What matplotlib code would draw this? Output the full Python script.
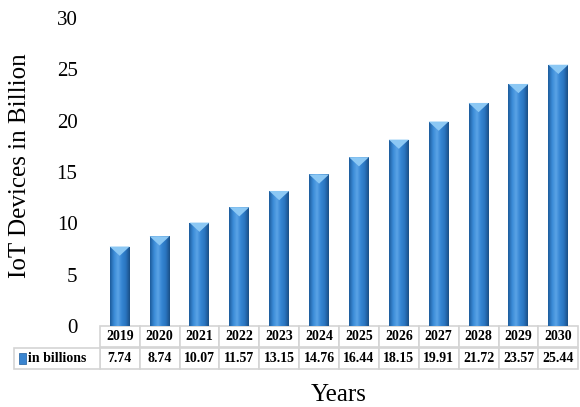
import numpy as np
import matplotlib.pyplot as plt
from matplotlib.patches import Rectangle, Polygon
from matplotlib.colors import LinearSegmentedColormap
import matplotlib.transforms as mtransforms

plt.rcParams['font.family'] = ['Liberation Serif', 'DejaVu Serif']

# data
years = ['2019', '2020', '2021', '2022', '2023', '2024', '2025', '2026',
         '2027', '2028', '2029', '2030']
values = [7.74, 8.74, 10.07, 11.57, 13.15, 14.76, 16.44, 18.15, 19.91,
          21.72, 23.57, 25.44]
value_labels = ['7.74', '8.74', '10.07', '11.57', '13.15', '14.76', '16.44',
                '18.15', '19.91', '21.72', '23.57', '25.44']
series_name = 'in billions'

fig = plt.figure(figsize=(5.8, 4.07), dpi=100)
ax = fig.add_axes([0.172, 0.199, 0.825, 0.757])

x = np.arange(len(years))
w = 0.5
cmap = LinearSegmentedColormap.from_list(
    'bar', ['#1d5c9c', '#3a8ad6', '#5aa3e6', '#3585d2', '#2a74bf', '#1a4f86'])
grad = np.linspace(0, 1, 64).reshape(1, -1)

for xi, v in zip(x, values):
    rect = Rectangle((xi - w / 2, 0), w, v, facecolor='none', edgecolor='none')
    ax.add_patch(rect)
    im = ax.imshow(grad, cmap=cmap, aspect='auto',
                   extent=(xi - w / 2, xi + w / 2, 0, v), zorder=2)
    im.set_clip_path(rect)
    # top bevel
    tri = Polygon([(xi - w / 2, v), (xi + w / 2, v), (xi, v - 0.9)],
                  closed=True, facecolor='#8cc8f4', edgecolor='none', zorder=3)
    ax.add_patch(tri)

ax.set_xlim(-0.5, len(years) - 0.5)
ax.set_ylim(0, 30)
ax.set_yticks([0, 5, 10, 15, 20, 25, 30])
ax.tick_params(axis='y', length=0, labelsize=15, pad=16)
ax.set_xticks([])
for s in ax.spines.values():
    s.set_visible(False)
ax.set_ylabel('IoT Devices in Billion', fontsize=18)
ax.yaxis.set_label_coords(-0.143, 0.52)

# data table under the bars
trans = mtransforms.blended_transform_factory(ax.transData, ax.transAxes)
row_h = 0.068
grey = '#d4d4d4'
for xi, yr, lab in zip(x, years, value_labels):
    ax.add_patch(Rectangle((xi - 0.5, -row_h), 1, row_h, transform=trans,
                           facecolor='white', edgecolor=grey, lw=1.2, clip_on=False))
    ax.add_patch(Rectangle((xi - 0.5, -2 * row_h - 0.005), 1, row_h, transform=trans,
                           facecolor='white', edgecolor=grey, lw=1.2, clip_on=False))
    ax.text(xi, -row_h / 2, yr, transform=trans, ha='center', va='center',
            fontsize=10, fontweight='bold', clip_on=False)
    ax.text(xi, -1.5 * row_h - 0.005, lab, transform=trans, ha='center',
            va='center', fontsize=10, fontweight='bold', clip_on=False)

# row label cell
ax.add_patch(Rectangle((-2.65, -2 * row_h - 0.005), 2.15, row_h, transform=trans,
                       facecolor='white', edgecolor=grey, lw=1.2, clip_on=False))
ax.add_patch(Rectangle((-2.52, -1.5 * row_h - 0.022), 0.17, 0.035, transform=trans,
                       facecolor='#3a85d0', edgecolor='#1d5c9c', lw=0.5, clip_on=False))
ax.text(-2.3, -1.5 * row_h - 0.005, series_name, transform=trans, ha='left',
        va='center', fontsize=10, fontweight='bold', clip_on=False)

ax.text(0.5, -0.224, 'Years', transform=ax.transAxes, ha='center', va='center',
        fontsize=18)

fig.savefig('out.png', dpi=100)
